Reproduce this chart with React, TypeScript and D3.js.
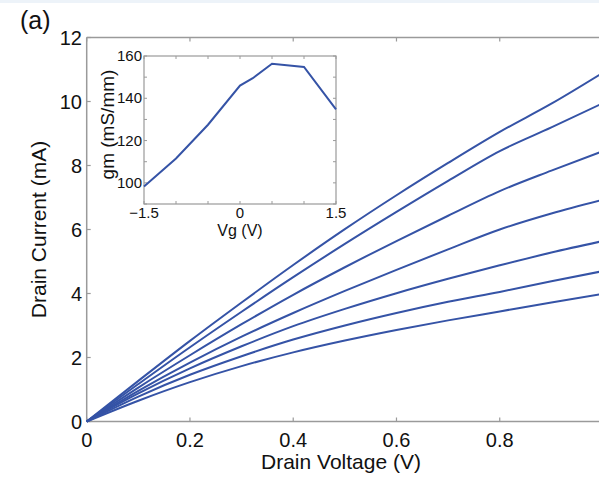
import React from 'react';
import * as d3 from 'd3';

// Drain voltage (V) sample points
const drainVoltage = [0, 0.1, 0.2, 0.3, 0.4, 0.5, 0.6, 0.7, 0.8, 0.9, 1.0];
// Drain current (mA), one curve per gate voltage (top to bottom)
const curveVg1 = [0, 1.27, 2.52, 3.72, 4.89, 6.01, 7.07, 8.08, 9.05, 9.93, 10.9];
const curveVg2 = [0, 1.17, 2.32, 3.43, 4.51, 5.55, 6.55, 7.52, 8.45, 9.19, 9.95];
const curveVg3 = [0, 1.06, 2.07, 3.04, 3.96, 4.82, 5.64, 6.43, 7.2, 7.84, 8.45];
const curveVg4 = [0, 0.96, 1.84, 2.65, 3.39, 4.08, 4.74, 5.38, 6.0, 6.5, 6.93];
const curveVg5 = [0, 0.88, 1.66, 2.35, 2.98, 3.52, 4.01, 4.46, 4.88, 5.28, 5.64];
const curveVg6 = [0, 0.78, 1.46, 2.04, 2.56, 3.0, 3.39, 3.74, 4.05, 4.38, 4.7];
const curveVg7 = [0, 0.65, 1.23, 1.73, 2.16, 2.53, 2.86, 3.16, 3.44, 3.72, 3.99];
const curves = [curveVg1, curveVg2, curveVg3, curveVg4, curveVg5, curveVg6, curveVg7];

const xTicks = [0, 0.2, 0.4, 0.6, 0.8];
const yTicks = [0, 2, 4, 6, 8, 10, 12];

// Inset: transconductance vs gate voltage
const gateVoltage = [-1.5, -1.0, -0.5, 0, 0.2, 0.5, 1.0, 1.5];
const gm = [98.3, 111.5, 127.5, 146, 149.5, 156.3, 154.8, 134.8];
const insetXTicks = [-1.5, -1, -0.5, 0, 0.5, 1, 1.5];
const insetXLabels = [-1.5, 0, 1.5];
const insetYTicks = [90, 100, 110, 120, 130, 140, 150, 160];
const insetYLabels = [100, 120, 140, 160];

const W = 599;
const H = 477;
const LINE = '#3553a6';
const AXIS = '#9a9a9a';
const FONT = '"Liberation Sans", Arial, sans-serif';

export default function App() {
  const x = d3.scaleLinear().domain([0, 1]).range([86.7, 603]);
  const y = d3.scaleLinear().domain([0, 12]).range([421.5, 37.5]);
  const line = d3
    .line<number>()
    .x((_, i) => x(drainVoltage[i]))
    .y((d) => y(d))
    .curve(d3.curveMonotoneX);

  const ix = d3.scaleLinear().domain([-1.5, 1.5]).range([144, 336]);
  const iy = d3.scaleLinear().domain([90, 160]).range([204, 56]);
  const iline = d3
    .line<number>()
    .x((_, i) => ix(gateVoltage[i]))
    .y((d) => iy(d));

  const fmt = (v: number) => (v < 0 ? '\u2212' + Math.abs(v) : String(v));

  return (
    <svg
      width={W}
      height={H}
      style={{ position: 'absolute', left: 0, top: 0, background: '#fff' }}
      fontFamily={FONT}
    >
      <rect x={0} y={0} width={W} height={3} fill="#edf3f9" />
      {/* main axes */}
      <line x1={x(0)} x2={W} y1={y(0)} y2={y(0)} stroke={AXIS} strokeWidth={1.5} />
      <line x1={x(0)} x2={W} y1={y(12)} y2={y(12)} stroke={AXIS} strokeWidth={1.5} />
      <line x1={x(0)} x2={x(0)} y1={y(0)} y2={y(12)} stroke={AXIS} strokeWidth={1.5} />
      {xTicks.map((t) => (
        <g key={'xt' + t}>
          <line x1={x(t)} x2={x(t)} y1={y(0)} y2={y(0) - 4} stroke={AXIS} strokeWidth={1.2} />
          <line x1={x(t)} x2={x(t)} y1={y(12)} y2={y(12) + 4} stroke={AXIS} strokeWidth={1.2} />
          <text x={x(t)} y={447} fontSize={20} textAnchor="middle" fill="#111">
            {t}
          </text>
        </g>
      ))}
      {yTicks.map((t) => (
        <g key={'yt' + t}>
          <line x1={x(0)} x2={x(0) + 4} y1={y(t)} y2={y(t)} stroke={AXIS} strokeWidth={1.2} />
          <text x={82} y={y(t) + 7} fontSize={20} textAnchor="end" fill="#111">
            {t}
          </text>
        </g>
      ))}
      <text x={341} y={469} fontSize={21} textAnchor="middle" fill="#111">
        Drain Voltage (V)
      </text>
      <text
        transform={`translate(46,229.5) rotate(-90)`}
        fontSize={21}
        textAnchor="middle"
        fill="#111"
      >
        Drain Current (mA)
      </text>
      <text x={20} y={29} fontSize={25} fill="#111">
        (a)
      </text>

      {/* curves */}
      {curves.map((c, i) => (
        <path key={'c' + i} d={line(c) || ''} fill="none" stroke={LINE} strokeWidth={2} />
      ))}

      {/* inset */}
      <rect x={ix(-1.5)} y={iy(160)} width={ix(1.5) - ix(-1.5)} height={iy(90) - iy(160)} fill="#fff" stroke="none" />
      <rect
        x={ix(-1.5)}
        y={iy(160)}
        width={ix(1.5) - ix(-1.5)}
        height={iy(90) - iy(160)}
        fill="none"
        stroke={AXIS}
        strokeWidth={1.2}
      />
      {insetXTicks.map((t) => (
        <g key={'ixt' + t}>
          <line x1={ix(t)} x2={ix(t)} y1={iy(90)} y2={iy(90) - 3} stroke={AXIS} strokeWidth={1} />
          <line x1={ix(t)} x2={ix(t)} y1={iy(160)} y2={iy(160) + 3} stroke={AXIS} strokeWidth={1} />
        </g>
      ))}
      {insetXLabels.map((t) => (
        <text key={'ixl' + t} x={ix(t)} y={218} fontSize={15} textAnchor="middle" fill="#111">
          {fmt(t)}
        </text>
      ))}
      {insetYTicks.map((t) => (
        <g key={'iyt' + t}>
          <line x1={ix(-1.5)} x2={ix(-1.5) + 3} y1={iy(t)} y2={iy(t)} stroke={AXIS} strokeWidth={1} />
          <line x1={ix(1.5)} x2={ix(1.5) - 3} y1={iy(t)} y2={iy(t)} stroke={AXIS} strokeWidth={1} />
        </g>
      ))}
      {insetYLabels.map((t) => (
        <text key={'iyl' + t} x={142} y={iy(t) + 5} fontSize={15} textAnchor="end" fill="#111">
          {t}
        </text>
      ))}
      <text x={240} y={236} fontSize={16} textAnchor="middle" fill="#111">
        Vg (V)
      </text>
      <text transform={`translate(114,124.5) rotate(-90)`} fontSize={19} textAnchor="middle" fill="#111">
        gm (mS/mm)
      </text>
      <path d={iline(gm) || ''} fill="none" stroke={LINE} strokeWidth={2} />
    </svg>
  );
}
